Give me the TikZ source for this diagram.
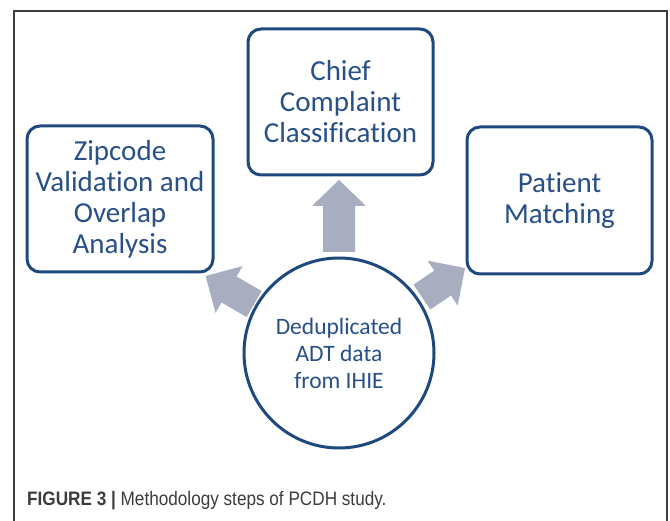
\documentclass[tikz,border=0pt]{standalone}
\usepackage{fontspec}
\setmainfont[Ligatures=NoCommon]{Carlito}
\newfontfamily\capfont[FakeStretch=0.88]{Liberation Sans}
\definecolor{boxblue}{RGB}{31,73,125}
\definecolor{txtblue}{RGB}{40,80,135}
\definecolor{arrgray}{RGB}{168,174,192}
\definecolor{framegray}{RGB}{60,60,60}
\tikzset{
  stepbox/.style={draw=boxblue, line width=3pt, rounded corners=13pt, fill=white,
    minimum width=185pt, minimum height=146pt, align=center, text=txtblue,
    font=\fontsize{29}{31}\selectfont, inner sep=0pt},
  hub/.style={draw=boxblue, line width=3pt, circle, minimum size=190pt, align=center,
    text=txtblue, font=\fontsize{23.5}{27}\selectfont, inner sep=0pt},
  blockarrow/.style={fill=arrgray, draw=none}
}
\begin{document}
\begin{tikzpicture}[x=1pt,y=-1pt]
\useasboundingbox (0,0) rectangle (670,521);
\fill[white] (0,0) rectangle (670,521);
\draw[framegray, line width=1.5pt] (14,540) -- (14,11) -- (667,11) -- (667,540);
\node[stepbox] (chief) at (340.5,102) {Chief\\Complaint\\Classification};
\node[stepbox, minimum width=186pt] (zip) at (120,199) {Zipcode\\Validation and\\Overlap\\Analysis};
\node[stepbox, minimum height=147pt] (pat) at (559.5,200.5) {Patient\\Matching};
\node[hub] (hub) at (339,353) {Deduplicated\\ADT data\\from IHIE};
\begin{scope}[shift={(hub.center)}, rotate=90]
  \fill[blockarrow] (101,-16) -- (147,-16) -- (147,-27) -- (173,0) -- (147,27) -- (147,16) -- (101,16) -- cycle;
\end{scope}
\begin{scope}[shift={(hub.center)}, rotate=150]
  \fill[blockarrow] (98,-15) -- (127,-15) -- (127,-27) -- (154,0) -- (127,27) -- (127,15) -- (98,15) -- cycle;
\end{scope}
\begin{scope}[shift={(hub.center)}, rotate=34]
  \fill[blockarrow] (100,-15) -- (125,-15) -- (125,-27) -- (152,0) -- (125,27) -- (125,15) -- (100,15) -- cycle;
\end{scope}
\node[anchor=base west, inner sep=0pt, text=framegray, font=\capfont\fontsize{19.5}{21}\selectfont] (cap) at (27,505)
  {\textbf{FIGURE 3 |} Methodology steps of PCDH study.};
\end{tikzpicture}
\end{document}
